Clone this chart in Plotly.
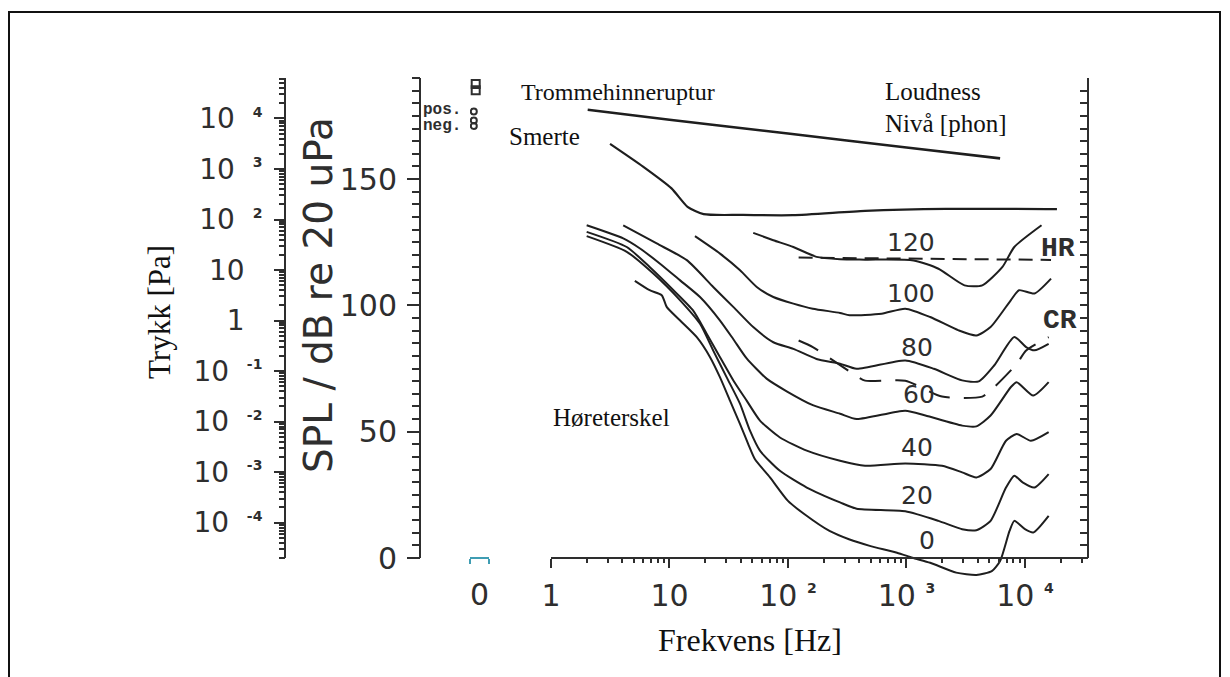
import plotly.graph_objects as go

W, H = 1230, 677

# ---------------- data ----------------
# Equal-loudness contours, frequency in Hz, SPL in dB re 20 uPa
freq_0 = [5.1, 6.8, 8.6, 9.5, 12.3, 17, 22, 26.7, 32.4, 39.4, 46.2, 52.5, 70.5, 100, 138, 224, 327, 490,
          832, 1122, 1585, 2630, 3890, 5250, 6170, 7410, 8130, 10000, 11750, 15850]
spl_0 = [109.7, 106, 104, 99.3, 94, 87.4, 79.5, 71.5, 62.3, 53, 45.1, 39.2, 31.9, 22.6, 17.3, 10.7, 7.4, 4.8,
         2.1, 0.1, -1.9, -5.8, -6.7, -5.2, -1.2, 10.7, 14.7, 11.4, 10.1, 16.7]

freq_20 = [2.0, 4.36, 7.3, 12.3, 18.1, 23.4, 30.4, 39.4, 47.8, 58, 85.5, 144, 275, 380, 977, 1862, 2951,
           3890, 5129, 6918, 8128, 9550, 12020, 15850]
spl_20 = [127.4, 121.2, 112.6, 102, 92.7, 82.1, 71.5, 61, 50.4, 42.5, 34.5, 27.9, 22, 19.5, 18.5, 14.7, 11.4,
          11, 14.7, 27.9, 32.6, 29.9, 27.9, 33.2]

freq_40 = [2.0, 4.36, 6.8, 10.8, 15.8, 20.6, 26.7, 34.7, 44.8, 58, 85.5, 144, 275, 447, 977, 1995, 2951,
           3890, 5129, 6918, 8511, 11220, 15850]
spl_40 = [129.1, 123.1, 115.2, 106, 98, 88.8, 79.5, 70.2, 62.3, 54.4, 47.7, 42.5, 38.5, 36.5, 37.4, 36.5, 33.9,
          31.9, 35.2, 46.4, 49.1, 46.4, 49.8]

freq_60 = [2.0, 4.07, 5.64, 8.32, 12.3, 18.1, 26.7, 34.7, 44.8, 66, 97.5, 162, 275, 380, 977, 1445, 2951,
           3890, 5129, 7586, 8511, 11750, 15850]
spl_60 = [131.7, 126.5, 122.5, 116.5, 109.9, 103.3, 94, 86.5, 79, 71, 66, 60.5, 57.1, 55, 58.3, 56.4, 52.4,
          52.1, 56.4, 67.6, 69.6, 64.3, 69.6]

freq_80 = [4.07, 7.8, 14, 23.4, 34.7, 50.9, 75.2, 111, 174, 275, 380, 977, 1700, 2951, 4074, 5495, 8128,
           10230, 12020, 15850]
spl_80 = [131.7, 124.5, 117.9, 107.3, 99.3, 91.4, 85.4, 82.8, 78.8, 76.9, 74.9, 78.2, 74.9, 70.3, 69.9, 76.2,
          87.5, 83.5, 82.2, 84.8]

freq_100 = [16.4, 26.7, 39.4, 54.5, 75.2, 111, 162, 275, 331, 617, 977, 1585, 2754, 3890, 5129, 7586, 8913,
            12020, 16600]
spl_100 = [127.4, 120.5, 113.9, 107.3, 103.3, 100.7, 98.7, 97, 96.1, 96.7, 98.7, 95.4, 90.1, 88.1, 91.4, 102,
           106, 104.7, 110.6]

freq_120 = [50.9, 75.2, 111, 174, 275, 447, 1148, 1862, 3090, 4365, 6457, 8128, 13800]
spl_120 = [128.7, 125.8, 123.1, 119.2, 118.3, 118.1, 117.8, 114.5, 107.9, 107.9, 115.2, 123.1, 131.7]

# Pain threshold ("Smerte") and eardrum rupture ("Trommehinneruptur")
freq_pain = [3.15, 5.98, 10.4, 14.2, 19.4, 39.8, 110, 447, 2138, 18620]
spl_pain = [163.9, 154.9, 146.3, 139, 136.1, 135.8, 135.7, 137.4, 138.2, 138.1]

freq_rupture = [2.04, 10, 100, 1000, 6170]
spl_rupture = [177.4, 173.5, 168, 162.5, 158.2]

# Dashed risk curves
freq_hr = [123, 16600]
spl_hr = [118.9, 118]
freq_cr = [123, 162, 240, 380, 447, 977, 1995, 4365, 5495, 8511, 10230, 15850]
spl_cr = [86.1, 83.5, 78.2, 72, 70.2, 70.2, 63.9, 63.9, 67.6, 76.8, 82.1, 87.4]

# Static pressure markers at 0 Hz
static_box_spl = [187.6, 185.2]
static_pos_spl = [176.7]
static_neg_spl = [173.2, 171.0]

# Labels
phon_levels = ["120", "100", "80", "60", "40", "20", "0"]
phon_label_px = [(911, 242), (911, 293), (917, 347), (919, 395), (917, 447), (917, 495), (927, 540)]

x_tick_vals = [1, 10, 100, 1000, 10000]
spl_tick_vals = [0, 50, 100, 150]
pa_tick_exp = [-4, -3, -2, -1, 0, 1, 2, 3, 4]

# ---------------- figure ----------------
AX = "#2e2e2e"
CURVE = "#1e1e1e"
TEAL = "#3f9db3"
SPL_TOP = 190
YMIN = -12
PX_PER_DB = (558 - 78) / float(SPL_TOP)
P_REF = 2e-5
X_MAX_LOG = 4.532


def px(X):
    return X / W


def py(Y):
    return 1 - Y / H


def sup(s):
    return '<sup><span style="font-size:14px;font-weight:bold">' + s + '</span></sup>'


fig = go.Figure()


def add_curve(f, s, dash=None, width=2.0):
    fig.add_trace(go.Scatter(
        x=f, y=s, mode="lines", xaxis="x", yaxis="y",
        line=dict(color=CURVE, width=width, dash=dash, shape="spline", smoothing=0.6),
        hoverinfo="skip", showlegend=False))


for f, s in [(freq_0, spl_0), (freq_20, spl_20), (freq_40, spl_40), (freq_60, spl_60),
             (freq_80, spl_80), (freq_100, spl_100), (freq_120, spl_120)]:
    add_curve(f, s)
add_curve(freq_pain, spl_pain, width=2.2)
add_curve(freq_rupture, spl_rupture, width=2.6)
add_curve(freq_hr, spl_hr, dash="14px,8px", width=2.0)
add_curve(freq_cr, spl_cr, dash="22px,14px", width=2.0)

# 0 Hz static markers (own small axis)
fig.add_trace(go.Scatter(x=[-0.4] * len(static_box_spl), y=static_box_spl, mode="markers", xaxis="x2", yaxis="y",
                         marker=dict(symbol="square-open", size=8, color=AX, line=dict(width=2, color=AX)),
                         hoverinfo="skip", showlegend=False))
fig.add_trace(go.Scatter(x=[-0.6] * (len(static_pos_spl) + len(static_neg_spl)),
                         y=static_pos_spl + static_neg_spl, mode="markers", xaxis="x2", yaxis="y",
                         marker=dict(symbol="circle-open", size=6, color=AX, line=dict(width=2, color=AX)),
                         hoverinfo="skip", showlegend=False))

# invisible anchors so the overlaid axes are drawn
for ya in ["y2", "y3", "y4"]:
    fig.add_trace(go.Scatter(x=[1], y=[1], xaxis="x", yaxis=ya, mode="markers", marker=dict(opacity=0),
                             hoverinfo="skip", showlegend=False))

minor_x = [k * 10 ** n for n in range(0, 5) for k in range(2, 10) if k * 10 ** n < 10 ** X_MAX_LOG]
x_tick_text = ["1", "10", "10 " + sup("2"), "10 " + sup("3"), "10 " + sup("4")]

spl_minor = [v for v in range(5, SPL_TOP + 1, 5) if v % 50 != 0]

pa_minor = []
for n in range(-5, 5):
    for k in range(1, 10):
        v = k * 10 ** n
        if P_REF <= v <= P_REF * 10 ** (SPL_TOP / 20.0):
            pa_minor.append(v)
pa_tick_vals = [10.0 ** e for e in pa_tick_exp]
pa_tick_text = []
for e in pa_tick_exp:
    if e == 0:
        pa_tick_text.append("1\u00a0\u00a0")
    elif e == 1:
        pa_tick_text.append("10\u00a0\u00a0")
    else:
        pa_tick_text.append("10\u00a0\u00a0" + sup(str(e)))

ydom_data = [py(558 - YMIN * PX_PER_DB), py(78)]
pa_range = [-4.69897 + YMIN / 20.0, -4.69897 + SPL_TOP / 20.0]
x_pos = py(558)

fig.update_layout(
    width=W, height=H, autosize=False,
    margin=dict(l=0, r=0, t=0, b=0, pad=0, autoexpand=False),
    paper_bgcolor="white", plot_bgcolor="rgba(0,0,0,0)",
    showlegend=False,
    xaxis=dict(type="log", domain=[px(551), px(1088)], range=[0, X_MAX_LOG], anchor="free", position=x_pos,
               automargin=False,
               showline=True, linecolor=AX, linewidth=2, showgrid=False, zeroline=False,
               ticks="outside", ticklen=9, tickwidth=2, tickcolor=AX,
               tickmode="array", tickvals=x_tick_vals, ticktext=x_tick_text,
               tickfont=dict(family="DejaVu Sans", size=30, color=AX), ticklabelstandoff=2,
               minor=dict(tickmode="array", tickvals=minor_x, ticks="outside", ticklen=4, tickwidth=1.5,
                          tickcolor=AX, showgrid=False)),
    xaxis2=dict(domain=[px(470), px(489)], range=[-1, 1], anchor="free", position=x_pos, automargin=False,
                showline=True, linecolor=TEAL, linewidth=2, showgrid=False, zeroline=False,
                tickmode="array", tickvals=[0], ticktext=["0"], ticks="",
                tickfont=dict(family="DejaVu Sans", size=30, color=AX), ticklabelstandoff=10,
                minor=dict(tickmode="array", tickvals=[-1, 1], ticks="outside", ticklen=5, tickwidth=2,
                           tickcolor=TEAL, showgrid=False)),
    # SPL axis (major ticks + labels); also the data axis
    yaxis=dict(domain=ydom_data, range=[YMIN, SPL_TOP], anchor="free", position=px(420), side="left",
               automargin=False, showline=False, showgrid=False, zeroline=False,
               ticks="outside", ticklen=13, tickwidth=2, tickcolor=AX,
               tickmode="array", tickvals=spl_tick_vals,
               tickfont=dict(family="DejaVu Sans", size=30, color=AX), ticklabelstandoff=4),
    # SPL axis 5 dB ticks
    yaxis4=dict(range=[YMIN, SPL_TOP], anchor="free", position=px(420), side="left", overlaying="y",
                automargin=False, showline=False, showgrid=False, zeroline=False,
                ticks="outside", ticklen=8, tickwidth=2, tickcolor=AX,
                tickmode="array", tickvals=spl_minor, showticklabels=False),
    # right-hand frame axis
    yaxis2=dict(range=[YMIN, SPL_TOP], anchor="free", position=px(1088), side="right", overlaying="y",
                automargin=False, showline=False, showgrid=False, zeroline=False,
                ticks="inside", ticklen=8, tickwidth=2, tickcolor=AX,
                tickmode="array", tickvals=list(range(0, SPL_TOP + 1, 5)), showticklabels=False),
    # pressure axis
    yaxis3=dict(type="log", range=pa_range, anchor="free", position=px(285), side="left", overlaying="y",
                automargin=False, showline=False, showgrid=False, zeroline=False,
                ticks="outside", ticklen=11, tickwidth=2, tickcolor=AX,
                tickmode="array", tickvals=pa_tick_vals, ticktext=pa_tick_text,
                tickfont=dict(family="DejaVu Sans", size=28, color=AX), ticklabelstandoff=6,
                minor=dict(tickmode="array", tickvals=pa_minor, ticks="outside", ticklen=6, tickwidth=1.5,
                           tickcolor=AX, showgrid=False)),
)

# vertical axis lines (from 0 dB to the top of the scale)
for X in (285, 420, 1088):
    fig.add_shape(type="line", xref="paper", yref="y", x0=px(X), x1=px(X), y0=0, y1=SPL_TOP,
                  line=dict(color=AX, width=2), layer="below")

annotations = []


def add_text(text, X, Y, size, family="Liberation Serif", color="#111", xanchor="center", angle=0,
             weight="normal"):
    annotations.append(dict(text=text, x=px(X), y=py(Y), xref="paper", yref="paper",
                            xanchor=xanchor, yanchor="middle", showarrow=False, textangle=angle,
                            font=dict(family=family, size=size, color=color, weight=weight)))


add_text("Trykk [Pa]", 159, 312, 31, angle=-90)
add_text("SPL / dB re 20 uPa", 318, 295, 39, family="DejaVu Sans", color=AX, angle=-90)
add_text("Frekvens [Hz]", 750, 640, 32)
add_text("Trommehinneruptur", 519, 92, 24, xanchor="left")
add_text("Smerte", 507, 137, 25, xanchor="left")
add_text("Loudness", 883, 92, 25, xanchor="left")
add_text("Nivå [phon]", 883, 124, 25, xanchor="left")
add_text("Høreterskel", 551, 417, 25, xanchor="left")
add_text("HR", 1058, 249, 28, family="Liberation Mono", color=AX, weight="bold")
add_text("CR", 1060, 320, 28, family="Liberation Mono", color=AX, weight="bold")
add_text("pos.", 421, 110, 16, family="Liberation Mono", color=AX, xanchor="left", weight="bold")
add_text("neg.", 421, 126, 16, family="Liberation Mono", color=AX, xanchor="left", weight="bold")
for lab, (X, Y) in zip(phon_levels, phon_label_px):
    add_text(lab, X, Y, 25, family="DejaVu Sans", color=AX)

fig.update_layout(annotations=annotations)

# outer frame of the figure
fig.add_shape(type="rect", xref="paper", yref="paper", x0=px(9), x1=px(1220), y0=py(690), y1=py(12),
              line=dict(color="#111", width=2), fillcolor="rgba(0,0,0,0)", layer="below")

fig.write_html("out.html", config={"displayModeBar": False},
               post_script="document.body.style.margin='0';document.body.style.overflow='hidden';")
